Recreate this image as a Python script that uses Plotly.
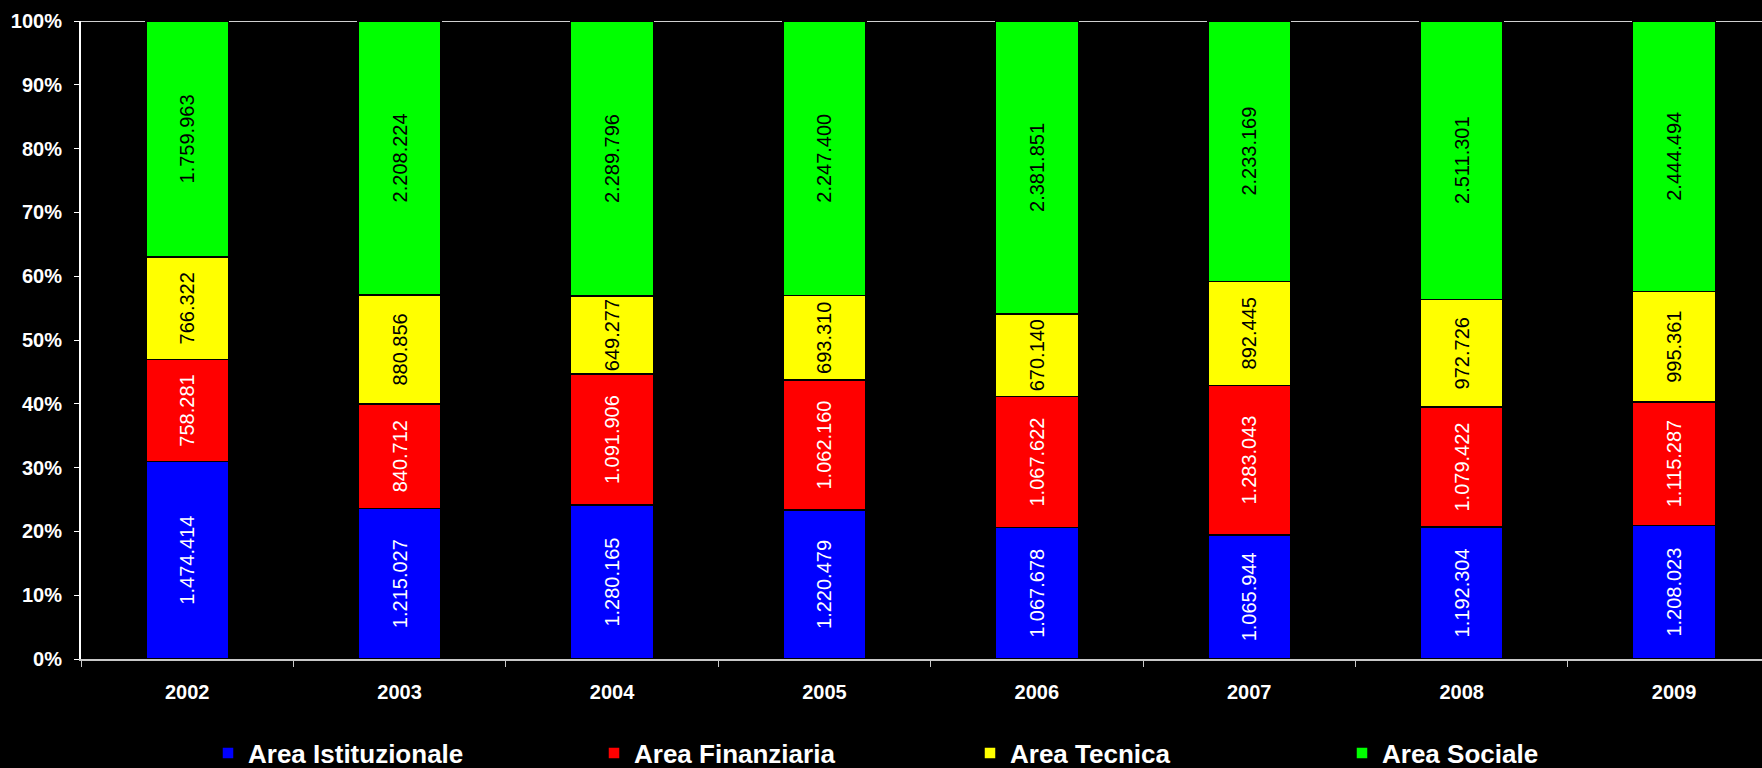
import plotly.graph_objects as go

years = ["2002", "2003", "2004", "2005", "2006", "2007", "2008", "2009"]
area_istituzionale = [1474414, 1215027, 1280165, 1220479, 1067678, 1065944, 1192304, 1208023]
area_finanziaria = [758281, 840712, 1091906, 1062160, 1067622, 1283043, 1079422, 1115287]
area_tecnica = [766322, 880856, 649277, 693310, 670140, 892445, 972726, 995361]
area_sociale = [1759963, 2208224, 2289796, 2247400, 2381851, 2233169, 2511301, 2444494]
y_ticks = [0, 10, 20, 30, 40, 50, 60, 70, 80, 90, 100]
y_tick_labels = ["0%", "10%", "20%", "30%", "40%", "50%", "60%", "70%", "80%", "90%", "100%"]

series = [
    ("Area Istituzionale", area_istituzionale, "#0000FF", "white", "legend"),
    ("Area Finanziaria", area_finanziaria, "#FF0000", "white", "legend2"),
    ("Area Tecnica", area_tecnica, "#FFFF00", "black", "legend3"),
    ("Area Sociale", area_sociale, "#00FF00", "black", "legend4"),
]

FONT = "Arial, 'Liberation Sans', sans-serif"


def fmt(v):
    return f"{v:,}".replace(",", ".")


fig = go.Figure()
for name, vals, color, tcolor, leg in series:
    fig.add_trace(go.Bar(
        x=years, y=vals, name=name,
        marker=dict(color=color, line=dict(color="black", width=1.5)),
        text=[fmt(v) for v in vals],
        textposition="inside",
        insidetextanchor="middle",
        textangle=-90,
        constraintext="none",
        textfont=dict(family=FONT, size=20, color=tcolor),
        hoverinfo="skip",
        legend=leg,
    ))


def lx(px):
    return px / 1762


leg_common = dict(
    orientation="h", yanchor="middle", yref="container", xref="container",
    y=15 / 768, xanchor="left",
    font=dict(family=FONT, size=26, color="white", weight="bold"),
    bgcolor="rgba(0,0,0,0)", borderwidth=0, itemwidth=30,
    tracegroupgap=0,
)
leg_px = [208, 594, 970, 1342]

fig.update_layout(
    width=1762, height=768,
    paper_bgcolor="black", plot_bgcolor="black",
    barmode="stack", barnorm="percent", bargap=0.61,
    margin=dict(l=81, r=0, t=21, b=109, autoexpand=False),
    showlegend=True,
    legend=dict(leg_common, x=lx(leg_px[0])),
    legend2=dict(leg_common, x=lx(leg_px[1])),
    legend3=dict(leg_common, x=lx(leg_px[2])),
    legend4=dict(leg_common, x=lx(leg_px[3])),
    xaxis=dict(
        type="category", range=[-0.5, 7.414],
        showline=True, linecolor="#c8c8c8", linewidth=2,
        ticks="outside", tickson="boundaries", ticklen=6, tickcolor="#c8c8c8", tickwidth=1,
        ticklabelstandoff=14,
        tickfont=dict(family=FONT, size=20, color="white", weight="bold"),
        showgrid=False, zeroline=False, fixedrange=True,
    ),
    yaxis=dict(
        range=[0, 100], tickvals=y_ticks, ticktext=y_tick_labels,
        showline=True, linecolor="white", linewidth=2,
        ticks="outside", ticklen=5, tickcolor="white",
        ticklabelstandoff=8,
        tickfont=dict(family=FONT, size=20, color="white", weight="bold"),
        showgrid=False, zeroline=False, fixedrange=True,
    ),
)
fig.add_shape(type="line", xref="paper", yref="y", x0=0, x1=1, y0=100, y1=100,
              line=dict(color="#d0d0d0", width=2), layer="below")

fig.write_html(
    "out.html",
    config={"displayModeBar": False},
    post_script="document.body.style.margin='0';document.body.style.background='black';",
)
